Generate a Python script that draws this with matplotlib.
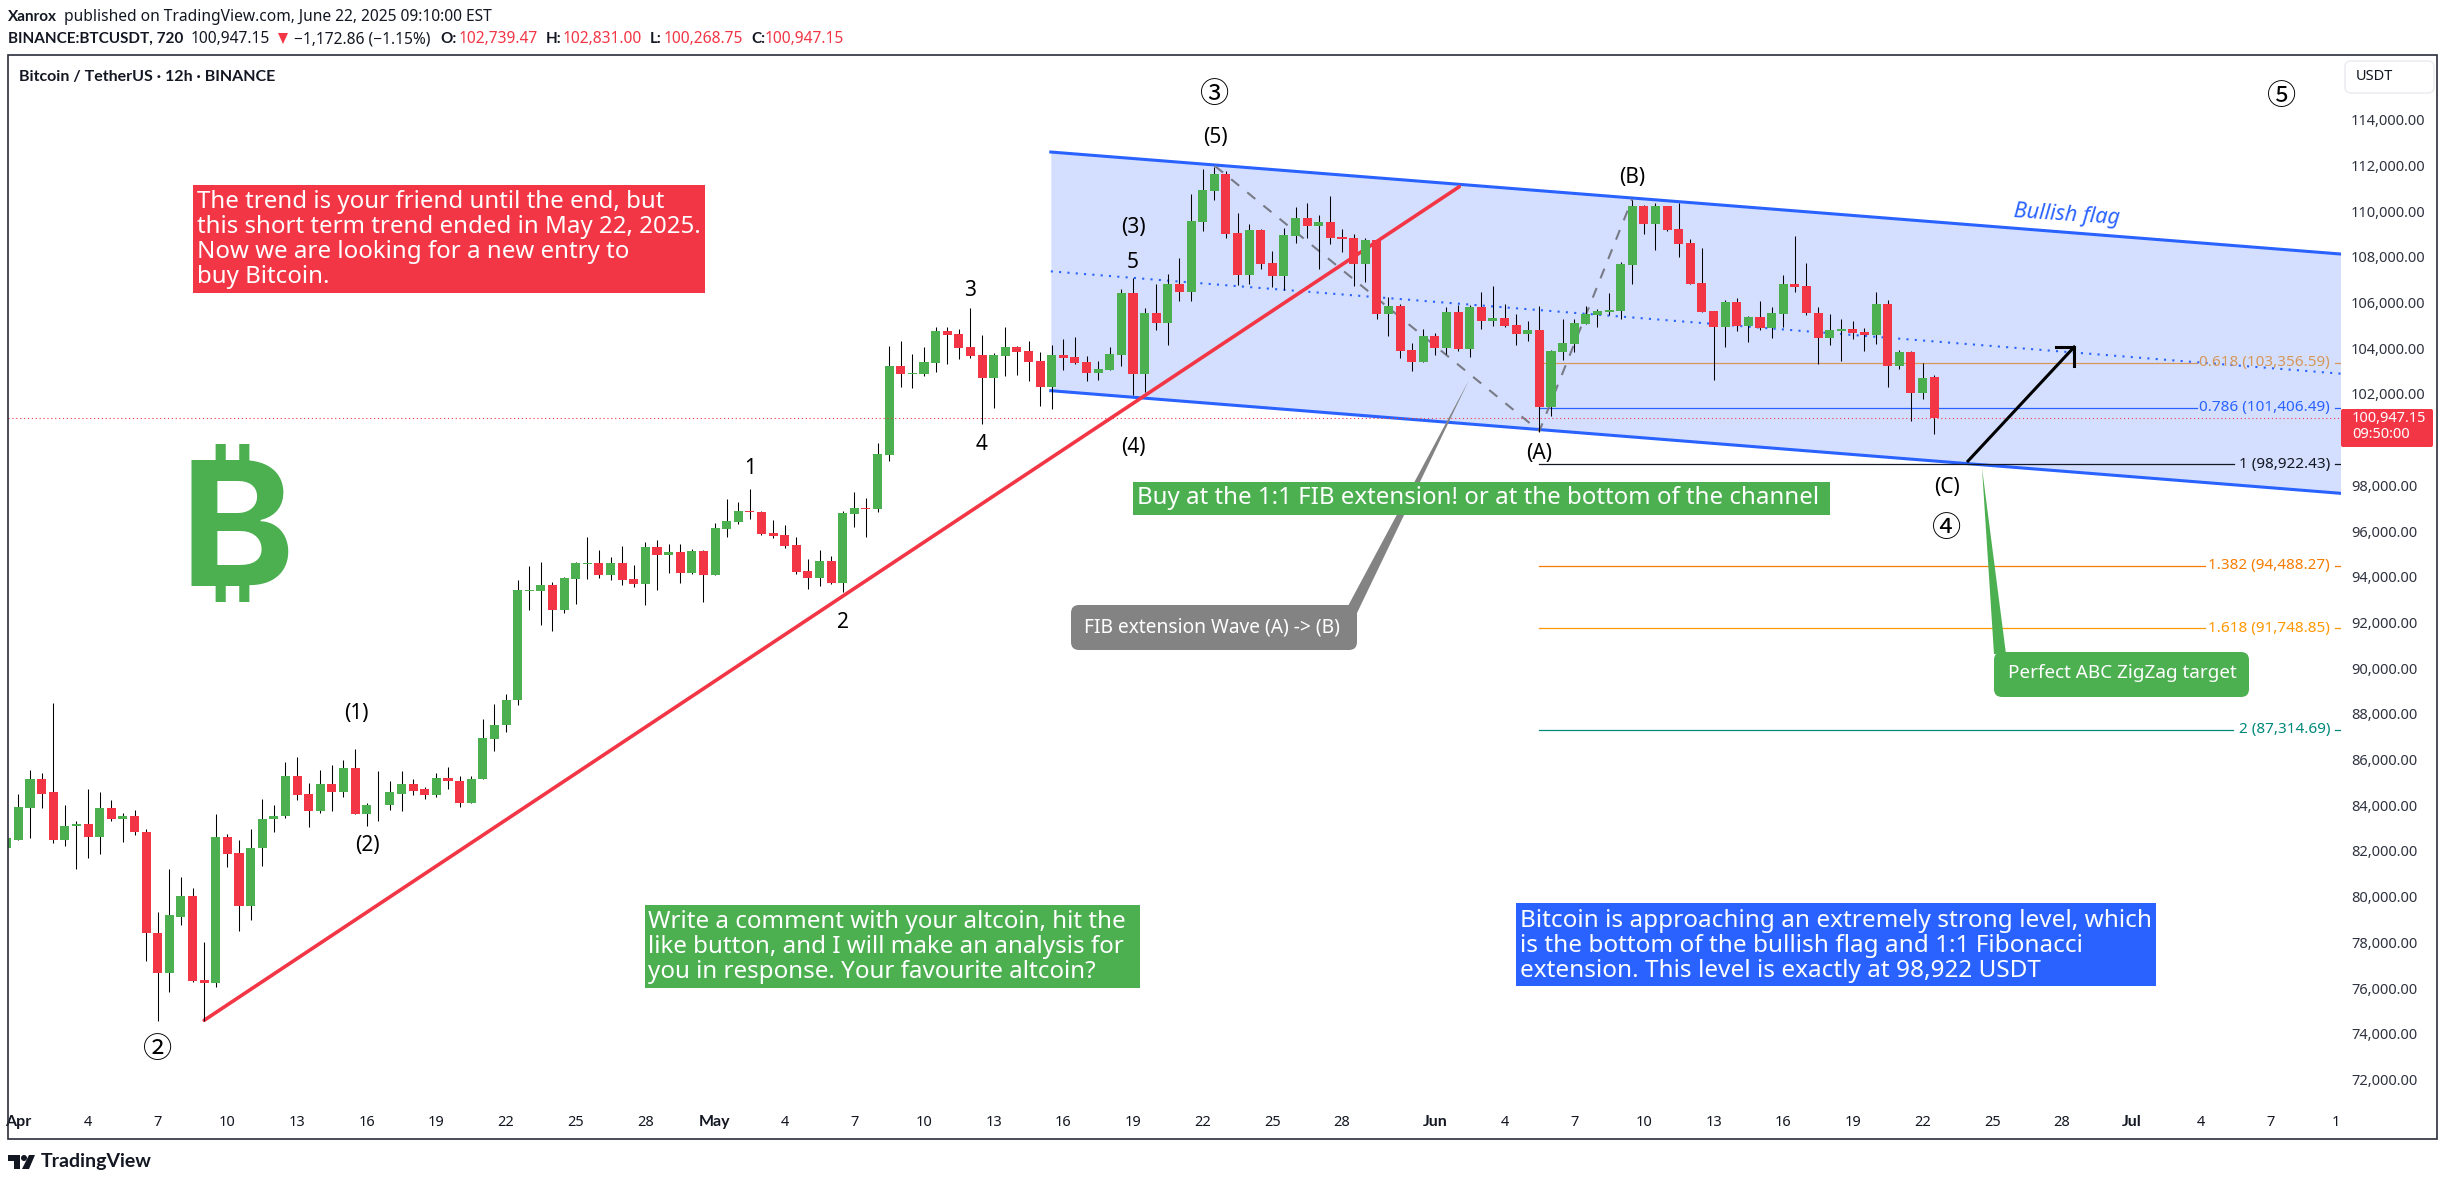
import matplotlib
matplotlib.use("Agg")
import matplotlib.pyplot as plt
import numpy as np
from matplotlib.patches import Circle, FancyBboxPatch, Polygon, Rectangle
from matplotlib.transforms import Affine2D

W, H = 2446, 1186

# 12h candles, first one is Mar 31 12:00
opens = [82150,
    82500, 83900, 85170, 84560, 82460, 83070, 83200, 82630, 83900, 83420,
    83550, 82850, 78430, 76640, 79130, 80010, 76340, 76200, 82630, 81890,
    79570, 82110, 83380, 83510, 85260, 84510, 83730, 84910, 84560, 85610,
    83600, 84030, 83990, 84510, 84950, 84690, 84430, 85210, 85080, 84080,
    85130, 86920, 87530, 88610, 93390, 93390, 93650, 92560, 93910, 94570,
    94610, 94090, 94610, 93910, 93700, 95310, 94960, 95100, 94180, 95140,
    94090, 96100, 96410, 96890, 96840, 95930, 95840, 95400, 94260, 93960,
    94700, 93740, 96760, 97020, 96980, 99340, 103230, 102880, 102880, 103360,
    104760, 104630, 104060, 103710, 102710, 103670, 104060, 103890, 103450, 102310,
    103710, 103620, 103400, 102920, 103050, 103710, 106420, 102880, 105550, 105110,
    106820, 106470, 109530, 110880, 111630, 109050, 107210, 109180, 107730, 107170,
    108910, 109700, 109350, 109530, 108870, 108830, 107690, 108740, 105500, 105850,
    103930, 103400, 104540, 104020, 105590, 103970, 105810, 105200, 105330, 105020,
    104630, 104800, 101440, 103840, 104190, 105070, 105460, 105590, 105630, 107650,
    110230, 109440, 110230, 109220, 108610, 106860, 105630, 104940, 106030, 104980,
    105370, 104890, 105500, 106820, 106730, 105550, 104450, 104760, 104850, 104720,
    104590, 105940, 103230, 103840, 102050, 102739.47]
highs = [82545,
    84510, 85560, 85430, 88490, 83990, 83330, 84730, 84600, 84250, 83680,
    83810, 82970, 79350, 81230, 80880, 80400, 78000, 83600, 82760, 82460,
    82980, 84290, 84030, 85910, 86090, 84990, 85560, 85780, 86000, 86480,
    84120, 85520, 85040, 85480, 85130, 84780, 85430, 85690, 85300, 85300,
    87790, 88450, 88880, 93870, 94480, 94660, 93780, 94000, 94660, 95750,
    95180, 94880, 95360, 94530, 95530, 95620, 95450, 95450, 95230, 95180,
    96360, 97410, 97280, 97850, 96890, 96490, 96280, 95750, 94790, 95180,
    94920, 96890, 97720, 97460, 99860, 104100, 104320, 103750, 104060, 104930,
    104930, 104850, 105770, 104590, 103800, 104930, 104100, 104320, 103840, 104150,
    104410, 104500, 103670, 103450, 104060, 106600, 107080, 105770, 106820, 107250,
    107950, 110750, 111840, 111930, 111760, 109920, 109440, 109220, 108260, 109260,
    110180, 110360, 109830, 110660, 109220, 109000, 108830, 108740, 106250, 105940,
    104240, 104850, 104670, 105810, 105900, 105900, 106470, 106730, 105940, 105500,
    105200, 105850, 103930, 105290, 105290, 105850, 105720, 106420, 107780, 110490,
    110270, 110360, 110230, 110360, 108780, 108390, 105630, 106120, 106200, 105420,
    106070, 105810, 107210, 108910, 107730, 105810, 105500, 105290, 105200, 104890,
    106470, 106120, 103930, 103890, 103360, 102831.00]
lows = [82100,
    82460, 82545, 83900, 82330, 82200, 81230, 81670, 81850, 83290, 82370,
    82680, 77170, 74560, 75810, 78780, 76250, 74560, 76030, 81280, 78480,
    78960, 81360, 82810, 83460, 84210, 83030, 83680, 83730, 84340, 83600,
    83110, 83290, 83810, 83730, 84430, 84290, 84380, 84690, 83940, 84080,
    85130, 86390, 87200, 88400, 92560, 91900, 91640, 92430, 92820, 93910,
    93960, 93870, 93650, 93570, 92780, 93430, 94180, 93740, 94130, 92910,
    94090, 95750, 96320, 96540, 95840, 95710, 95270, 94130, 93480, 93610,
    93700, 93350, 96190, 95750, 96840, 99080, 102310, 102270, 102790, 102970,
    103320, 103540, 103580, 100690, 101390, 102790, 102840, 102570, 101480, 101350,
    103050, 103320, 102570, 102620, 103050, 103230, 101960, 102090, 104800, 104150,
    106070, 106070, 109130, 110490, 108830, 106770, 106800, 107470, 106680, 106540,
    108610, 108830, 107470, 108560, 108220, 106730, 106900, 105290, 104540, 103580,
    103010, 103400, 103710, 103750, 103890, 103620, 104850, 104980, 104950, 104150,
    104320, 100340, 101040, 103490, 103840, 105070, 104940, 105460, 105290, 106820,
    109000, 108300, 109130, 108000, 106820, 105590, 102620, 104060, 104760, 104280,
    104800, 104450, 104940, 106470, 105460, 103320, 104150, 103450, 104410, 103890,
    104190, 102310, 103100, 100820, 101790, 100268.75]
closes = [82545,
    83940, 85170, 84510, 82460, 83110, 83200, 82630, 83900, 83420, 83550,
    82810, 78390, 76640, 79180, 80010, 76290, 76200, 82630, 81850, 79570,
    82150, 83420, 83550, 85260, 84470, 83730, 84910, 84560, 85610, 83600,
    84030, 83990, 84560, 84950, 84640, 84430, 85210, 85040, 84080, 85170,
    86960, 87530, 88610, 93430, 93430, 93650, 92560, 93960, 94610, 94610,
    94090, 94610, 93870, 93700, 95310, 94960, 95100, 94180, 95140, 94090,
    96150, 96450, 96890, 96840, 95880, 95800, 95360, 94220, 93960, 94700,
    93740, 96800, 97020, 96980, 99380, 103230, 102880, 102920, 103400, 104760,
    104590, 104020, 103670, 102710, 103710, 104060, 103840, 103400, 102310, 103710,
    103580, 103360, 102920, 103100, 103750, 106420, 102880, 105550, 105110, 106820,
    106470, 109570, 110930, 111630, 109000, 107210, 109180, 107690, 107170, 108960,
    109700, 109350, 109530, 108830, 108780, 107690, 108740, 105500, 105850, 103890,
    103400, 104540, 104020, 105590, 103970, 105810, 105200, 105330, 104980, 104630,
    104800, 101440, 103890, 104240, 105110, 105500, 105630, 105680, 107690, 110230,
    109440, 110230, 109180, 108560, 106820, 105590, 104940, 106030, 104980, 105370,
    104890, 105550, 106820, 106680, 105550, 104450, 104800, 104850, 104670, 104590,
    105940, 103230, 103840, 102050, 102700, 100947.15]

# drawings, x is in days since Apr 1
channel_days = [44.46, 100.0]
channel_upper = [112587, 108124]
channel_lower = [102142, 97652]
channel_mid = [107365, 102888]
trend_days = [8.0, 62.05]
trend_prices = [74590, 111069]
abc_days = [51.53, 65.5, 69.5]
abc_prices = [111975, 100378, 110530]
arrow_days = [83.96, 88.53]
arrow_prices = [99065, 104054]
head_days = [87.75, 88.53, 88.53]
head_prices = [104054, 104054, 103236]

last_price = 100947.15
fib_left = 65.5
fib_prices = [103356.59, 101406.49, 98922.43, 94488.27, 91748.85, 87314.69]
fib_labels = ["0.618 (103,356.59)", "0.786 (101,406.49)", "1 (98,922.43)",
              "1.382 (94,488.27)", "1.618 (91,748.85)", "2 (87,314.69)"]
fib_line_ends = [93.82, 93.82, 95.42, 94.17, 94.17, 95.37]
fib_colors = ["#D6975A", "#2962FF", "#131722", "#F57C00", "#FF9800", "#00897B"]

tick_days = [0, 3, 6, 9, 12, 15, 18, 21, 24, 27, 30, 33, 36, 39, 42, 45, 48, 51, 54, 57,
             61, 64, 67, 70, 73, 76, 79, 82, 85, 88, 91, 94, 97, 99.8]
tick_labels = ["Apr", "4", "7", "10", "13", "16", "19", "22", "25", "28",
               "May", "4", "7", "10", "13", "16", "19", "22", "25", "28",
               "Jun", "4", "7", "10", "13", "16", "19", "22", "25", "28",
               "Jul", "4", "7", "1"]
# 100,000 sits under the last price tag
price_ticks = [72000, 74000, 76000, 78000, 80000, 82000, 84000, 86000, 88000, 90000, 92000,
               94000, 96000, 98000, 102000, 104000, 106000, 108000, 110000, 112000, 114000]

RED = "#F23645"
GREEN = "#4CAF50"
BLUE = "#2962FF"
INK = "#131722"
FONT = "Noto Sans"
BOLD = "Lato"

fig = plt.figure(figsize=(W / 100, H / 100), dpi=100, facecolor="white")
# top-down picture pixels, for the notes that sit on the chart
px = Affine2D().scale(1, -1).translate(0, H)

ax = fig.add_axes([8 / W, 1 - 1105 / H, 2332.5 / W, 1050 / H])
ax.set_xlim(-0.448, 100.0)
ax.set_ylim(70882, 116833)
for s in ax.spines.values():
    s.set_visible(False)

ax.fill_between(channel_days, channel_lower, channel_upper, color=BLUE, alpha=0.2, lw=0, zorder=1)
ax.plot(channel_days, channel_upper, color=BLUE, lw=2.2, zorder=2)
ax.plot(channel_days, channel_lower, color=BLUE, lw=2.2, zorder=2)
ax.plot(channel_days, channel_mid, color=BLUE, lw=1.5, ls=(0, (1, 3)), zorder=2)

for price, end, color in zip(fib_prices, fib_line_ends, fib_colors):
    ax.plot([fib_left, end], [price, price], color=color, lw=0.9, zorder=2)
    ax.plot([99.77, 100.0], [price, price], color=color, lw=0.9, zorder=2)

ax.plot(abc_days, abc_prices, color="#787B86", lw=1.5, ls=(0, (5, 5)), zorder=2)
ax.plot(trend_days, trend_prices, color=RED, lw=2.6, solid_capstyle="round", zorder=3)

days = np.arange(len(opens)) * 0.5 - 0.5
o = np.array(opens)
c = np.array(closes)
colors = [GREEN if b >= a else RED for a, b in zip(opens, closes)]
ax.vlines(days, lows, highs, color="black", lw=0.75, zorder=4)
ax.bar(days, np.abs(c - o), bottom=np.minimum(o, c), width=0.39, color=colors, lw=0, zorder=5)

ax.axhline(last_price, color=RED, lw=0.8, ls=(0, (1, 2.5)), zorder=6)
ax.plot(arrow_days, arrow_prices, color="black", lw=2.2, zorder=6)
ax.plot(head_days, head_prices, color="black", lw=2.2, zorder=6)

for price, label, color in zip(fib_prices, fib_labels, fib_colors):
    ax.text(99.55, price, label, color=color, ha="right", va="center", family=FONT, fontsize=11, zorder=7)

ax.set_xticks(tick_days)
ax.set_xticklabels(tick_labels, family=FONT, fontsize=10.5, color=INK)
for lab in ax.get_xticklabels():
    if lab.get_text() in ("Apr", "May", "Jun", "Jul"):
        lab.set_family(BOLD)
        lab.set_fontweight("bold")
        lab.set_fontsize(11.5)
ax.yaxis.tick_right()
ax.set_yticks(price_ticks)
ax.set_yticklabels([f"{p:,.2f}" for p in price_ticks], family=FONT, fontsize=10.5, color="#2f3340")
ax.tick_params(axis="both", length=0)
ax.tick_params(axis="x", pad=7)
ax.tick_params(axis="y", pad=7.5)


def note(x, y, s, **kw):
    kw.setdefault("family", FONT)
    kw.setdefault("va", "center")
    kw.setdefault("color", INK)
    return fig.text(x, y, s, transform=px, **kw)


def box(x0, y0, x1, y1, color, zorder=2):
    fig.add_artist(Rectangle((x0, y0), x1 - x0, y1 - y0, transform=px, facecolor=color, lw=0, zorder=zorder))


def callout(x0, y0, x1, y1, color, tail, radius=8, zorder=2):
    fig.add_artist(Polygon(tail, transform=px, facecolor=color, lw=0, zorder=zorder))
    fig.add_artist(FancyBboxPatch((x0, y0), x1 - x0, y1 - y0, boxstyle=f"round,pad=0,rounding_size={radius}",
                                  transform=px, facecolor=color, lw=0, zorder=zorder))


# outer frame
fig.add_artist(Rectangle((8, 55), 2429, 1084, transform=px, fill=False, edgecolor="#2a2e39", lw=1.2, zorder=1))

# header rows
note(8, 17, "Xanrox", family=BOLD, fontweight="bold", fontsize=11)
note(64, 17, "published on TradingView.com, June 22, 2025 09:10:00 EST", fontsize=11.2)
note(8, 39, "BINANCE:BTCUSDT, 720", family=BOLD, fontweight="bold", fontsize=11)
note(191, 39, "100,947.15", fontsize=11.2)
fig.add_artist(Polygon([(278, 33), (288, 33), (283, 44)], transform=px, facecolor=RED, lw=0))
note(294, 39, "\u22121,172.86 (\u22121.15%)", fontsize=11.2)
for x_key, x_val, key, val in [(440, 459, "O:", "102,739.47"), (546, 563, "H:", "102,831.00"),
                               (650, 664, "L:", "100,268.75"), (751, 765, "C:", "100,947.15")]:
    note(x_key, 39, key, family=BOLD, fontweight="bold", fontsize=11)
    note(x_val, 39, val, color=RED, fontsize=11.2)
note(19, 77, "Bitcoin / TetherUS \u00b7 12h \u00b7 BINANCE", family=BOLD, fontweight="bold", fontsize=11.5)

# text boxes
box(193, 185, 705, 293, RED)
for y, s in zip([202, 227, 252, 277], ["The trend is your friend until the end, but",
                                       "this short term trend ended in May 22, 2025.",
                                       "Now we are looking for a new entry to", "buy Bitcoin."]):
    note(197, y, s, color="white", fontsize=17.3, zorder=4)

box(645, 905, 1140, 988, GREEN)
for y, s in zip([922, 947, 972], ["Write a comment with your altcoin, hit the",
                                  "like button, and I will make an analysis for",
                                  "you in response. Your favourite altcoin?"]):
    note(648, y, s, color="white", fontsize=17.4, zorder=4)

box(1516, 903, 2156, 986, BLUE)
for y, s in zip([921, 946, 971], ["Bitcoin is approaching an extremely strong level, which",
                                  "is the bottom of the bullish flag and 1:1 Fibonacci",
                                  "extension. This level is exactly at 98,922 USDT"]):
    note(1520, y, s, color="white", fontsize=17.5, zorder=4)

callout(1071, 605, 1357, 650, "#838383", [(1348, 606), (1357, 613), (1469, 380)])
note(1084, 627, "FIB extension Wave (A) -> (B)", color="white", fontsize=13.8, zorder=4)

callout(1994, 652, 2249, 697, GREEN, [(1994, 654), (2006, 654), (1982, 468)])
note(2008, 673, "Perfect ABC ZigZag target", color="white", fontsize=13.6, zorder=4)

box(1133, 482, 1830, 515, GREEN, zorder=3)
note(1137, 498, "Buy at the 1:1 FIB extension! or at the bottom of the channel", color="white", fontsize=17.3, zorder=4)

note(2067, 215, "Bullish flag", color=BLUE, style="italic", fontsize=15.5, ha="center", rotation=-3.8, zorder=4)

# wave counts
for x, y, s in [(356, 713, "(1)"), (367, 845, "(2)"), (750, 469, "1"), (843, 622, "2"), (970, 290, "3"),
                (982, 445, "4"), (1133, 262, "5"), (1133, 227, "(3)"), (1133, 448, "(4)"), (1215, 138, "(5)"),
                (1539, 453, "(A)"), (1632, 177, "(B)"), (1947, 488, "(C)")]:
    note(x, y, s, color="black", fontsize=15, ha="center", zorder=4)
for x, y, s in [(158, 1050, "\u2461"), (1215, 95, "\u2462"), (1947, 529, "\u2463"), (2282, 97, "\u2464")]:
    note(x, y, s, color="black", family="Noto Sans CJK JP", fontsize=21, ha="center", zorder=4)

note(237, 540, "\u20bf", color=GREEN, family=["Inter", "Roboto", "Noto Sans", "Open Sans", "Lato"], fontweight="bold",
     fontsize=125, ha="center", zorder=4)

# price axis furniture
fig.add_artist(FancyBboxPatch((2345, 61), 89, 32, boxstyle="round,pad=0,rounding_size=6", transform=px,
                              facecolor="white", edgecolor="#eceef2", lw=1.2, zorder=2))
note(2356, 77, "USDT", fontsize=10.5, zorder=4)
fig.add_artist(FancyBboxPatch((2341, 409), 92, 38, boxstyle="round,pad=0,rounding_size=2", transform=px,
                              facecolor=RED, lw=0, zorder=2))
note(2352, 418, "100,947.15", color="white", fontsize=10.5, zorder=4)
note(2352, 435, "09:50:00", color="white", fontsize=10.5, zorder=4)

# TradingView mark
fig.add_artist(Polygon([(8, 1155), (20, 1155), (20, 1169), (14, 1169), (14, 1161), (8, 1161)],
                       transform=px, facecolor=INK, lw=0))
fig.add_artist(Circle((24, 1158), 3, transform=px, facecolor=INK, lw=0))
fig.add_artist(Polygon([(29, 1155), (35, 1155), (29, 1169), (22, 1169)], transform=px, facecolor=INK, lw=0))
note(41, 1162, "TradingView", family=BOLD, fontweight="bold", fontsize=14)

fig.savefig("out.png", dpi=100)
